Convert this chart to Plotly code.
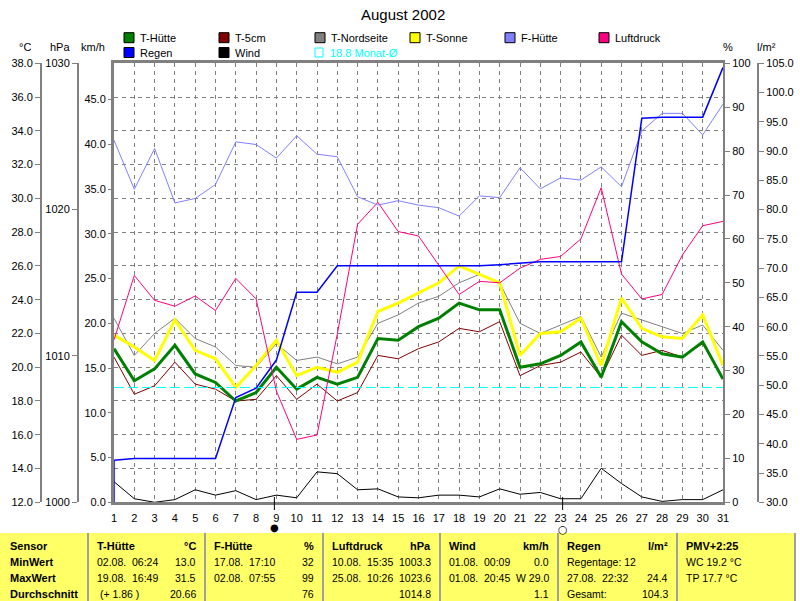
import plotly.graph_objects as go

W, H = 800, 601

days = list(range(1, 32))

# temperatures in °C
t_huette = [21.1, 19.2, 19.9, 21.3, 19.6, 19.1, 18.0, 18.5, 20.0, 18.7,
            19.4, 19.0, 19.4, 21.7, 21.6, 22.4, 22.9, 23.8, 23.4, 23.4,
            20.0, 20.2, 20.7, 21.5, 19.4, 22.7, 21.5, 20.8, 20.6, 21.5, 19.3]
t_5cm = [20.6, 18.4, 18.9, 20.3, 19.0, 18.7, 18.0, 18.1, 19.5, 18.1,
         19.0, 18.0, 18.5, 20.7, 20.5, 21.1, 21.5, 22.3, 22.1, 22.7,
         19.5, 20.1, 20.3, 20.9, 19.4, 21.9, 20.7, 21.0, 20.6, 21.4, 19.3]
t_nord = [22.9, 20.7, 22.0, 22.9, 21.7, 21.2, 20.1, 20.0, 21.4, 20.4,
          20.6, 20.2, 20.6, 22.6, 23.1, 23.8, 24.2, 25.0, 25.5, 25.0,
          22.6, 22.0, 22.5, 23.0, 20.6, 23.2, 22.8, 22.4, 22.0, 22.5, 21.0]
t_sonne = [21.9, 21.2, 20.4, 22.8, 21.0, 20.5, 18.8, 20.1, 21.6, 19.5,
           20.0, 19.7, 20.3, 23.3, 23.8, 24.4, 25.0, 26.0, 25.5, 25.0,
           20.7, 22.0, 22.1, 22.9, 20.1, 24.1, 22.3, 21.8, 21.7, 23.1, 20.1]
monat_avg = 18.8

# humidity %
f_huette = [82.5, 71.3, 80.6, 68.2, 69.2, 72.4, 82.1, 81.5, 78.4, 83.5,
            79.3, 78.7, 69.6, 67.7, 68.7, 67.7, 67.1, 65.2, 69.8, 69.4,
            76.2, 71.4, 73.9, 73.4, 76.4, 71.9, 84.6, 88.6, 88.6, 83.7, 90.7]

# pressure hPa
luftdruck = [1011.1, 1015.5, 1013.8, 1013.4, 1014.1, 1013.1, 1015.3, 1013.9, 1007.6, 1004.3,
             1004.6, 1011.5, 1019.0, 1020.5, 1018.5, 1018.2, 1016.2, 1014.2, 1015.1, 1015.0,
             1016.0, 1016.6, 1016.8, 1018.0, 1021.5, 1015.6, 1013.9, 1014.2, 1016.9, 1018.9, 1019.2]

# wind km/h
wind = [2.3, 0.4, 0.0, 0.3, 1.4, 0.8, 1.3, 0.3, 0.8, 0.5,
        3.4, 3.2, 1.4, 1.5, 0.6, 0.5, 0.8, 0.8, 0.6, 1.5,
        0.9, 1.1, 0.4, 0.4, 3.8, 2.1, 0.6, 0.1, 0.3, 0.3, 1.4]

# rain, cumulative on the l/m² scale (starts from the axis floor)
regen_floor = 30.0
regen = [37.2, 37.5, 37.5, 37.5, 37.5, 37.5, 47.9, 49.5, 54.3, 65.9,
         65.9, 70.4, 70.4, 70.4, 70.4, 70.4, 70.4, 70.4, 70.4, 70.6,
         70.9, 71.1, 71.1, 71.1, 71.1, 71.1, 95.6, 95.8, 95.8, 95.8, 104.3]

moon_new = 8.9
moon_full = 23.1

# summary table
row_labels = ["Sensor", "MinWert", "MaxWert", "Durchschnitt"]
table_boxes = [
    ("T-Hütte", "°C", [("02.08.\u00a0 06:24", "13.0"), ("19.08.\u00a0 16:49", "31.5"), ("\u00a0(+ 1.86 )", "20.66")]),
    ("F-Hütte", "%", [("17.08.\u00a0 17:10", "32"), ("02.08.\u00a0 07:55", "99"), ("", "76")]),
    ("Luftdruck", "hPa", [("10.08.\u00a0 15:35", "1003.3"), ("25.08.\u00a0 10:26", "1023.6"), ("", "1014.8")]),
    ("Wind", "km/h", [("01.08.\u00a0 00:09", "0.0"), ("01.08.\u00a0 20:45", "W 29.0"), ("", "1.1")]),
    ("Regen", "l/m²", [("Regentage: 12", ""), ("27.08.\u00a0 22:32", "24.4"), ("Gesamt:", "104.3")]),
    ("PMV+2:25", "", [("WC 19.2 °C", ""), ("TP 17.7 °C", ""), ("", "")]),
]


def px(x, y):
    return x / W, 1 - y / H


GRAY = "#808080"
FONT = "Liberation Sans"
xdom = [114 / W, 723 / W]
ydom = [1 - 502.3 / H, 1 - 63.3 / H]

fig = go.Figure()

fig.add_trace(go.Scatter(x=[days[0], days[-1]], y=[monat_avg, monat_avg], yaxis="y2",
                         mode="lines", line=dict(color="#00FFFF", width=1, dash="10px,4px")))
fig.add_trace(go.Scatter(x=days, y=t_nord, mode="lines", line=dict(color="#808080", width=1)))
fig.add_trace(go.Scatter(x=days, y=t_5cm, mode="lines", line=dict(color="#800000", width=1)))
fig.add_trace(go.Scatter(x=days, y=t_sonne, mode="lines", line=dict(color="#FFFF00", width=3)))
fig.add_trace(go.Scatter(x=days, y=t_huette, mode="lines", line=dict(color="#008000", width=3)))
fig.add_trace(go.Scatter(x=days, y=f_huette, yaxis="y5", mode="lines", line=dict(color="#8080FF", width=1)))
fig.add_trace(go.Scatter(x=days, y=luftdruck, yaxis="y3", mode="lines", line=dict(color="#FF0080", width=1)))
fig.add_trace(go.Scatter(x=[days[0]] + days, y=[regen_floor] + regen, yaxis="y6", mode="lines",
                         line=dict(color="#0000FF", width=1.5)))
fig.add_trace(go.Scatter(x=days, y=wind, yaxis="y4", mode="lines", line=dict(color="#000000", width=1)))

axfont = dict(family=FONT, size=11, color="black")
common = dict(tickfont=axfont, ticks="outside", ticklen=5, tickcolor=GRAY, linecolor=GRAY,
              showgrid=False, zeroline=False, fixedrange=True, showline=True, linewidth=2,
              automargin=False)

fig.update_layout(
    template="none",
    width=W, height=H,
    margin=dict(l=0, r=0, t=0, b=0, pad=0),
    paper_bgcolor="white", plot_bgcolor="white",
    showlegend=False, hovermode=False,
    font=dict(family=FONT, size=11, color="black"),
    xaxis=dict(domain=xdom, range=[1, 31], dtick=1, showgrid=True, gridcolor=GRAY,
               griddash="4px,4px", gridwidth=1, showline=True, mirror=True, linewidth=3,
               linecolor=GRAY, ticks="", tickfont=axfont, zeroline=False, fixedrange=True,
               ticklabelstandoff=3, automargin=False),
    yaxis=dict(domain=ydom, range=[12, 38], dtick=2, showgrid=True, gridcolor=GRAY,
               griddash="4px,4px", gridwidth=1, showticklabels=False, ticks="",
               showline=True, linewidth=3, linecolor=GRAY, zeroline=False, fixedrange=True,
               automargin=False),
    yaxis2=dict(common, overlaying="y", anchor="free", position=41 / W, side="left",
                range=[12, 38], dtick=2, tickformat=".1f"),
    yaxis3=dict(common, overlaying="y", anchor="free", position=78 / W, side="left",
                range=[1000, 1030], dtick=10),
    yaxis4=dict(common, overlaying="y", anchor="x", side="left", ticklen=3,
                range=[0, 49.05], dtick=5, tickformat=".1f", linewidth=3),
    yaxis5=dict(common, overlaying="y", anchor="x", side="right",
                range=[0, 100], dtick=10),
    yaxis6=dict(common, overlaying="y", anchor="free", position=758 / W, side="right",
                range=[30, 105], dtick=5, tickformat=".1f"),
)

annotations = []
shapes = []


def text(x, y, s, color="black", size=11, bold=False, anchor="left"):
    xp, yp = px(x, y)
    annotations.append(dict(x=xp, y=yp, xref="paper", yref="paper", text=f"<b>{s}</b>" if bold else s,
                            showarrow=False, xanchor=anchor, yanchor="middle",
                            font=dict(family=FONT, size=size, color=color)))


# title and axis units
text(403, 15, "August 2002", size=15, anchor="center")
for ux, u in [(25, "°C"), (60, "hPa"), (93, "km/h"), (728, "%"), (766, "l/m²")]:
    text(ux, 47, u, anchor="center")

# legend
legend_items = [
    (124, 37.7, "T-Hütte", "#008000"), (219, 37.7, "T-5cm", "#800000"),
    (315, 37.7, "T-Nordseite", "#808080"), (410, 37.7, "T-Sonne", "#FFFF00"),
    (505, 37.7, "F-Hütte", "#8080FF"), (599, 37.7, "Luftdruck", "#FF0080"),
    (124, 52.5, "Regen", "#0000FF"), (219, 52.5, "Wind", "#000000"),
]
for sx, cy, name, col in legend_items:
    x0, y0 = px(sx, cy + 5)
    x1, y1 = px(sx + 10, cy - 5)
    shapes.append(dict(type="rect", xref="paper", yref="paper", x0=x0, y0=y0, x1=x1, y1=y1,
                       fillcolor=col, line=dict(color="black", width=1)))
    text(sx + 14, cy, name)
x0, y0 = px(315, 57)
x1, y1 = px(323, 48)
shapes.append(dict(type="rect", xref="paper", yref="paper", x0=x0, y0=y0, x1=x1, y1=y1,
                   line=dict(color="#00FFFF", width=1)))
text(328, 52.5, f"{monat_avg:.1f} Monat-Ø", color="#00FFFF")

# moon phases under the axis
for mx, sym, sz, my in [(moon_new, "●", 10, 527), (moon_full, "○", 11, 529)]:
    shapes.append(dict(type="line", xref="x", yref="paper", x0=mx, x1=mx,
                       y0=px(0, 497)[1], y1=px(0, 510)[1], line=dict(color="black", width=1)))
    annotations.append(dict(x=mx, y=px(0, my)[1], xref="x", yref="paper", text=sym,
                            showarrow=False, xanchor="center", yanchor="middle",
                            font=dict(family="DejaVu Sans", size=sz, color="black")))

# summary table
bounds = [0, 88, 205, 323, 440, 558, 677, 795]
row_y = [546, 562, 578, 594]
for i in range(len(bounds) - 1):
    x0, y0 = px(bounds[i], 601)
    x1, y1 = px(bounds[i + 1], 533)
    shapes.append(dict(type="rect", xref="paper", yref="paper", x0=x0, y0=y0, x1=x1, y1=y1,
                       fillcolor="#FFFF66", line=dict(width=0), layer="below"))
for b in bounds[1:]:
    x0, y0 = px(b, 601)
    x1, y1 = px(b, 533)
    shapes.append(dict(type="line", xref="paper", yref="paper", x0=x0, y0=y0, x1=x1, y1=y1,
                       line=dict(color="#A0A0A0", width=2)))

for ry, lab in zip(row_y, row_labels):
    text(8, ry, lab, bold=True)

for i, (head, unit, rows) in enumerate(table_boxes):
    left = bounds[i + 1] + 7
    right = bounds[i + 2] - 7
    text(left, row_y[0], head, bold=True)
    if unit:
        text(right, row_y[0], unit, bold=True, anchor="right")
    for ry, (ltxt, rtxt) in zip(row_y[1:], rows):
        if ltxt:
            text(left, ry, ltxt, size=10.5)
        if rtxt:
            text(right, ry, rtxt, size=10.5, anchor="right")

fig.update_layout(annotations=annotations, shapes=shapes)

fig.write_html("out.html", config={"displayModeBar": False},
               post_script=("document.documentElement.style.overflow='hidden';"
                            "document.body.style.overflow='hidden';"
                            "document.body.style.margin='0';document.body.style.padding='0';"))
